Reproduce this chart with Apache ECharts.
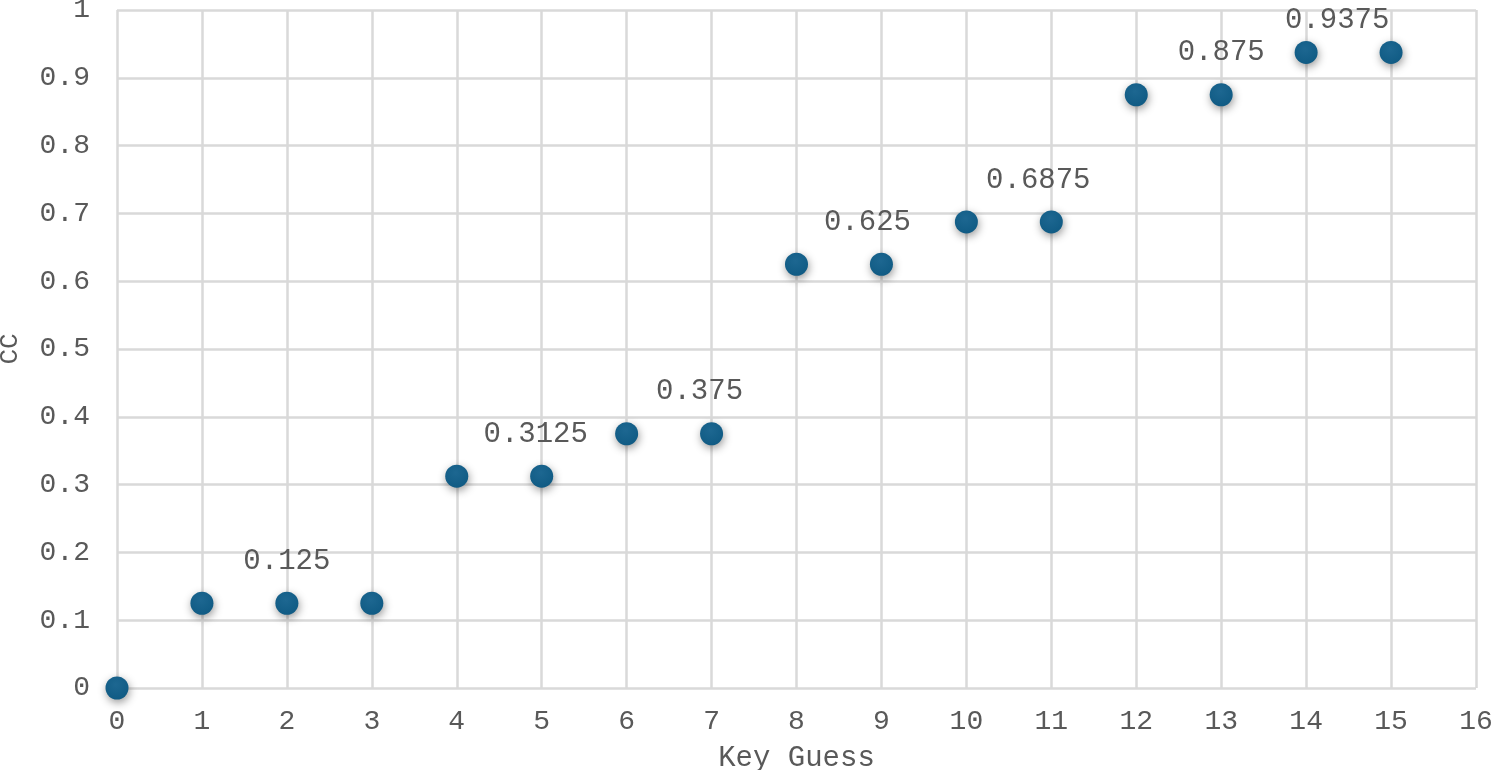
<!DOCTYPE html>
<html><head><meta charset="utf-8">
<script src="https://cdn.jsdelivr.net/npm/echarts@6/dist/echarts.min.js"></script>
<style>html,body{margin:0;padding:0;background:#fff}#c{width:1492px;height:770px}</style>
</head><body><div id="c"></div>
<script>
const keyGuess = [0,1,2,3,4,5,6,7,8,9,10,11,12,13,14,15];
const ccValues = [0,0.125,0.125,0.125,0.3125,0.3125,0.375,0.375,0.625,0.625,0.6875,0.6875,0.875,0.875,0.9375,0.9375];
const labelledIdx = [2,5,7,9,11,13,14];
const labelOffsets = {2:[0,0],5:[-6,0],7:[-12,0],9:[-14,0],11:[-13,0],13:[0,0],14:[31,10]};
const font = '"Liberation Mono", "Courier New", monospace';
const txt = '#595959';
const data = keyGuess.map((x,i)=>{
  const d = {value:[x, ccValues[i]]};
  if (labelledIdx.includes(i)) {
    d.label = {show:true, position:'top', distance:16, offset:labelOffsets[i],
      formatter: String(ccValues[i]), color:txt, fontFamily:font, fontSize:29};
  }
  return d;
});
const chart = echarts.init(document.getElementById('c'));
chart.setOption({
  animation:false,
  grid:{left:117, right:16, top:10, bottom:82, containLabel:false, outerBoundsMode:'none'},
  xAxis:{type:'value', min:0, max:16, interval:1,
    name:'Key Guess', nameLocation:'middle', nameGap:56,
    nameTextStyle:{color:txt, fontFamily:font, fontSize:29},
    axisLine:{show:false}, axisTick:{show:false},
    axisLabel:{color:txt, fontFamily:font, fontSize:28, margin:20},
    splitLine:{show:true, lineStyle:{color:'#d9d9d9', width:2.5}}},
  yAxis:{type:'value', min:0, max:1, interval:0.1,
    name:'CC', nameLocation:'middle', nameGap:94, nameRotate:90,
    nameTextStyle:{color:txt, fontFamily:font, fontSize:26},
    axisLine:{show:false}, axisTick:{show:false},
    axisLabel:{color:txt, fontFamily:font, fontSize:28, margin:27,
      formatter:v=>String(Math.round(v*10)/10)},
    splitLine:{show:true, lineStyle:{color:'#d9d9d9', width:2.5}}},
  series:[{type:'scatter', symbol:'circle', symbolSize:23, data:data,
    itemStyle:{opacity:1, color:{type:'radial', x:0.45, y:0.35, r:0.7,
      colorStops:[{offset:0,color:'#1d6791'},{offset:1,color:'#0f5a83'}]},
      shadowBlur:8, shadowColor:'rgba(0,0,0,0.4)', shadowOffsetY:3, shadowOffsetX:1}}]
});
</script></body></html>
